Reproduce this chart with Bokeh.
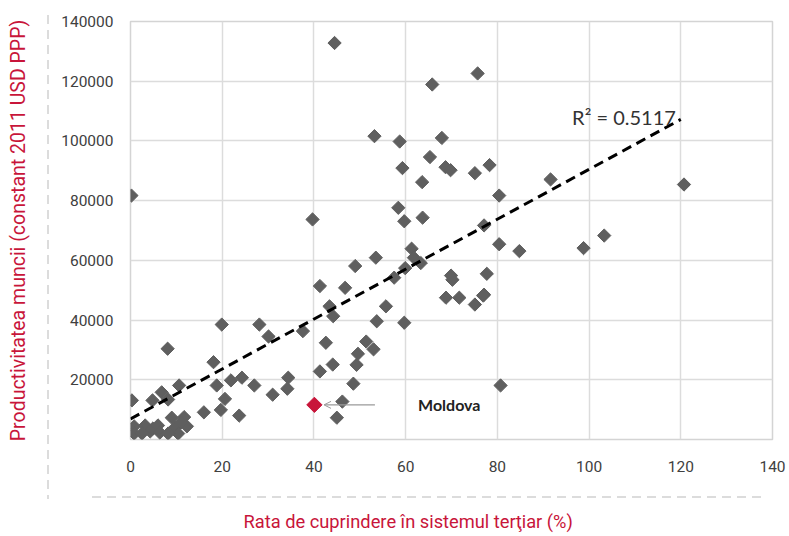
import numpy as np
from bokeh.plotting import figure
from bokeh.models import (Range1d, FixedTicker, BasicTickFormatter, Label, Arrow, OpenHead,
                          Title, InlineStyleSheet)
from bokeh.embed import file_html
from bokeh.resources import INLINE

# ---- data ----
rate = [0.2, 44.5, 75.7, 65.8, 53.2, 58.7, 67.9, 65.3, 59.3, 68.7, 69.8, 63.6, 75.1, 78.3,
        80.4, 91.6, 120.7, 77.1, 80.4, 84.8, 98.8, 103.3, 77.7, 77.1, 80.7, 39.7, 58.4, 59.7,
        63.7, 61.3, 61.8, 63.3, 59.9, 53.5, 49.0, 57.5, 69.9, 70.2, 68.8, 71.7, 75.1, 76.9,
        41.3, 46.8, 43.4, 44.2, 55.7, 53.7, 59.7, 37.6, 42.6, 51.4, 53.0, 49.6, 49.3, 44.1,
        41.3, 48.6, 46.2, 45.0, 19.9, 28.1, 30.1, 8.1, 18.1, 18.8, 21.9, 24.3, 27.0, 31.0,
        34.4, 34.2, 10.6, 6.8, 4.8, 8.2, 0.3, 20.6, 16.0, 19.7, 23.7, 9.0, 11.7, 12.3,
        0.8, 0.8, 3.2, 4.3, 4.9, 6.0, 6.4, 2.5, 9.7, 11.0, 10.4, 8.2]
productivity = [81700, 132800, 122600, 118900, 101600, 99800, 101000, 94600, 90900, 91200,
                90200, 86200, 89200, 91900, 81700, 87100, 85400, 71700, 65400, 63100, 64100,
                68300, 55500, 48500, 18100, 73700, 77600, 73100, 74300, 63900, 60900, 59100,
                57400, 60900, 58100, 54200, 54900, 53500, 47500, 47500, 45200, 48200, 51400,
                50800, 44600, 41300, 44600, 39600, 39100, 36300, 32400, 32800, 30200, 28700,
                25000, 25100, 22800, 18700, 12700, 7300, 38500, 38500, 34500, 30400, 25900,
                18100, 19800, 20700, 18100, 15000, 20700, 17000, 18100, 15800, 13100, 13400,
                13100, 13600, 9100, 9900, 8000, 7300, 7500, 4400,
                4400, 2000, 4700, 2700, 3700, 4700, 2300, 2000, 4000, 5700, 2000, 2000]
moldova_rate = [40.1]
moldova_productivity = [11600]
moldova_name = "Moldova"
trend_x = [0, 120]
trend_y = [6900, 107200]
r2_text = "R\u00b2 = 0.5117"
x_ticks = [0, 20, 40, 60, 80, 100, 120, 140]
y_ticks = [20000, 40000, 60000, 80000, 100000, 120000, 140000]
x_title = "Rata de cuprindere \u00een sistemul ter\u0163iar (%)"
y_title = "Productivitatea muncii (constant 2011 USD PPP)"

RED = "#C8153A"
GRAY = "#5f5f5f"

guides_css = """
:host { position: relative; }
:host::before {
  content: ""; position: absolute; left: 47px; top: 15px; width: 2px; height: 484px;
  background-image: repeating-linear-gradient(to bottom, #dcdcdc 0px, #dcdcdc 9px,
                                              transparent 9px, transparent 15px);
  z-index: 10; pointer-events: none;
}
:host::after {
  content: ""; position: absolute; left: 92px; top: 496px; width: 671px; height: 2px;
  background-image: repeating-linear-gradient(to right, #dcdcdc 0px, #dcdcdc 9px,
                                              transparent 9px, transparent 15px);
  z-index: 10; pointer-events: none;
}
"""

p = figure(width=789, height=536, output_backend="svg", toolbar_location=None,
           x_range=Range1d(0, 140), y_range=Range1d(0, 140000),
           min_border_left=130, min_border_right=17, min_border_top=21, min_border_bottom=97,
           background_fill_color="white", border_fill_color="white",
           stylesheets=[InlineStyleSheet(css=guides_css)])

p.outline_line_color = "#d4d4d4"
p.outline_line_width = 1.5

for ax in (p.xaxis, p.yaxis):
    ax.axis_line_color = None
    ax.major_tick_line_color = None
    ax.minor_tick_line_color = None
    ax.major_tick_out = 0
    ax.major_tick_in = 0
    ax.minor_tick_out = 0
    ax.minor_tick_in = 0
    ax.major_label_text_font = "Roboto"
    ax.major_label_text_font_size = "15.5px"
    ax.major_label_text_color = "#404040"
    ax.axis_label_text_font = "Roboto"
    ax.axis_label_text_font_style = "normal"
    ax.axis_label_text_color = RED

p.xaxis.ticker = FixedTicker(ticks=x_ticks)
p.xaxis.major_label_standoff = 21

p.yaxis.axis_label_text_font_size = "19.5px"
p.yaxis.ticker = FixedTicker(ticks=y_ticks)
p.yaxis.formatter = BasicTickFormatter(use_scientific=False)
p.yaxis.major_label_standoff = 17
p.yaxis.axis_label = y_title
p.yaxis.axis_label_standoff = 28

# x title: left-aligned with an offset (sits left of centre, as in the reference)
title_kw = dict(text=x_title, align="left", offset=113, vertical_align="bottom",
                text_font="Roboto", text_font_size="18.3px", text_font_style="normal",
                text_color=RED)
try:
    x_title_ann = Title(standoff=0, padding=dict(left=0, right=0, top=34, bottom=0), **title_kw)
except Exception:
    x_title_ann = Title(standoff=34, **title_kw)
p.add_layout(x_title_ann, "below")

p.xgrid.ticker = FixedTicker(ticks=x_ticks)
p.ygrid.ticker = FixedTicker(ticks=y_ticks)
p.grid.grid_line_color = "#dcdcdc"
p.grid.grid_line_width = 1.5

# countries
p.scatter(rate, productivity, marker="square", angle=np.pi / 4, size=9.4,
          fill_color=GRAY, line_color=GRAY)
# Moldova
p.scatter(moldova_rate, moldova_productivity, marker="square", angle=np.pi / 4, size=10.8,
          fill_color=RED, line_color=RED)

# trend line
p.line(trend_x, trend_y, line_color="black", line_width=3, line_dash="10 6")

p.add_layout(Label(x=96.3, y=107900, text=r2_text, text_font="Lato", text_font_size="20px",
                   text_color="#333333", text_baseline="middle"))

mx, my = moldova_rate[0], moldova_productivity[0]
p.add_layout(Arrow(end=OpenHead(size=7, line_color="#9a9a9a", line_width=1),
                   x_start=mx + 13.2, y_start=my, x_end=mx + 2.1, y_end=my,
                   line_color="#9a9a9a", line_width=1.2))
p.add_layout(Label(x=mx + 22.6, y=my, text=moldova_name, text_font="Lato",
                   text_font_style="bold", text_font_size="16px", text_color="#222222",
                   text_baseline="middle"))

open("out.html", "w").write(file_html(p, INLINE))
